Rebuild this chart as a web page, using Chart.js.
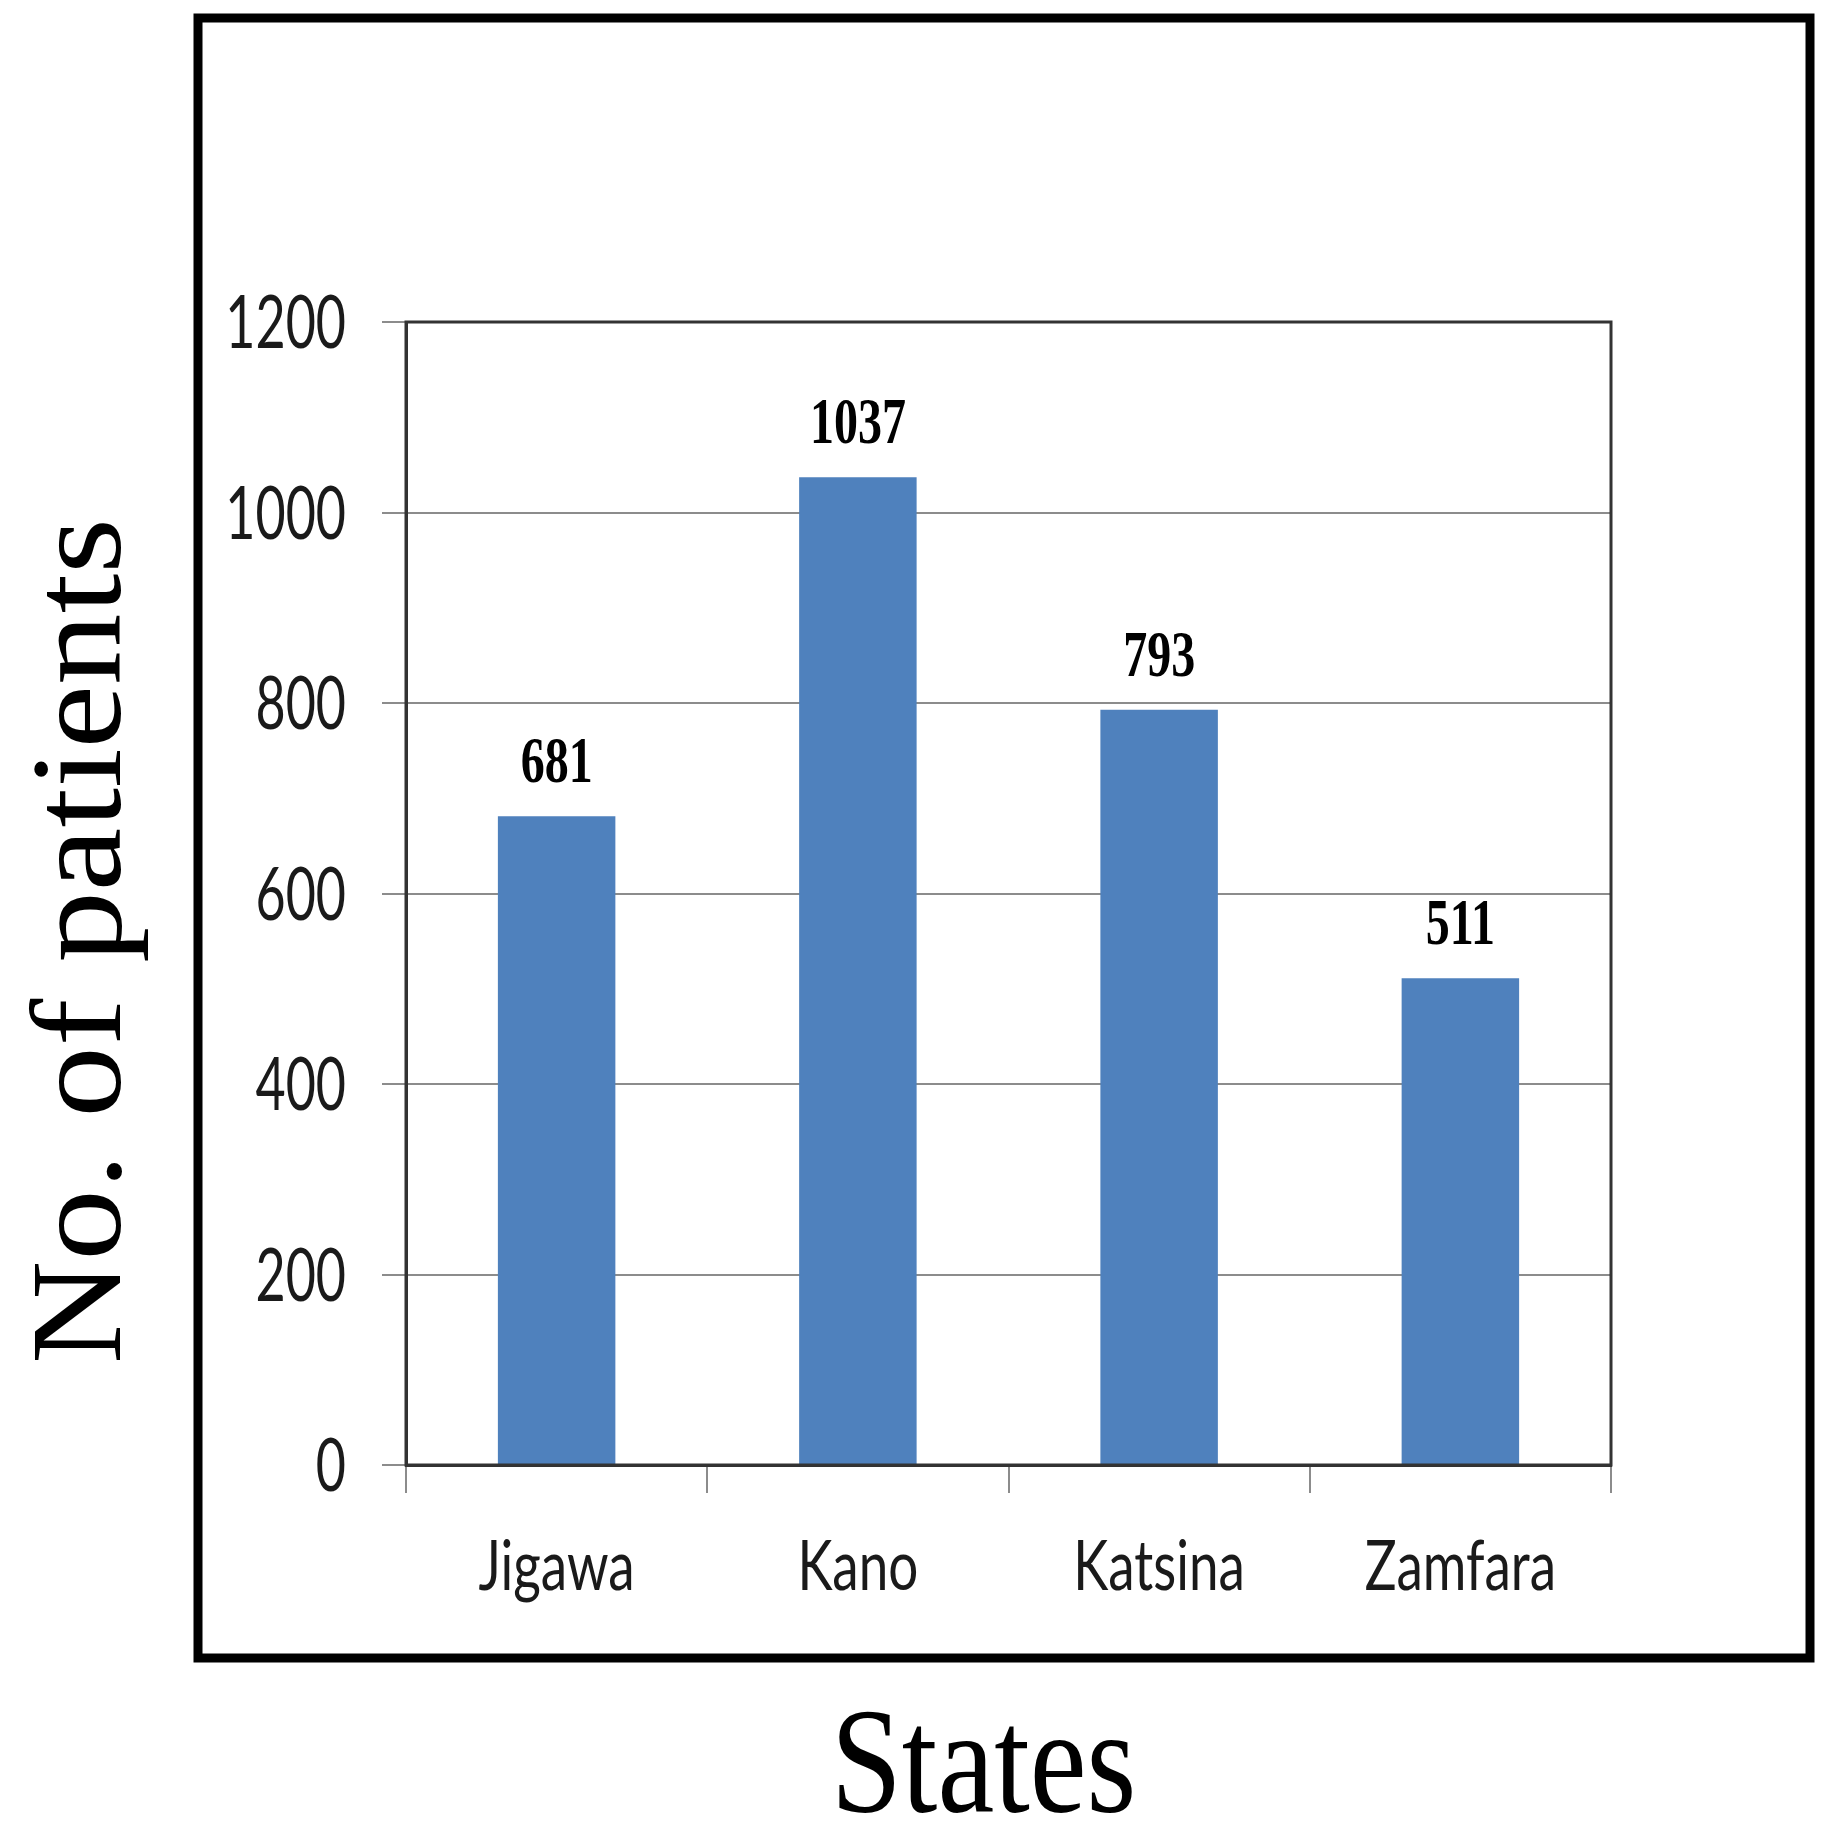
<!DOCTYPE html>
<html>
<head>
<meta charset="utf-8">
<title>No. of patients by state</title>
<script src="https://cdn.jsdelivr.net/npm/chart.js@4/dist/chart.umd.min.js"></script>
<style>
  html, body { margin: 0; padding: 0; background: #fff; }
  canvas { display: block; }
</style>
</head>
<body>
<canvas id="patientsChart" width="1833" height="1847"></canvas>
<script>
const states = ['Jigawa', 'Kano', 'Katsina', 'Zamfara'];
const patients = [681, 1037, 793, 511];
const yTicks = [0, 200, 400, 600, 800, 1000, 1200];

const yTitle = 'No. of patients';
const xTitle = 'States';

const serif = "'Liberation Serif', 'Times New Roman', serif";
const sans = "Lato, 'Open Sans', 'Noto Sans', sans-serif";

// draw text stretched vertically (the original figure is taller than wide)
function tallText(ctx, text, x, y, stretch) {
  ctx.save();
  ctx.translate(x, y);
  ctx.scale(1, stretch);
  ctx.fillText(text, 0, 0);
  ctx.restore();
}

// Outer frame, plot frame, tick labels, bar values and the axis titles
const decorations = {
  id: 'decorations',
  beforeDraw(chart) {
    const ctx = chart.ctx;
    ctx.save();
    ctx.fillStyle = '#fff';
    ctx.fillRect(0, 0, chart.width, chart.height);
    ctx.restore();
  },
  afterDraw(chart) {
    const ctx = chart.ctx;
    const area = chart.chartArea;
    const xScale = chart.scales.x;
    const yScale = chart.scales.y;

    ctx.save();
    // plot area frame
    ctx.strokeStyle = '#333';
    ctx.lineWidth = 3;
    ctx.strokeRect(area.left, area.top, area.right - area.left, area.bottom - area.top);

    // thick outer box
    ctx.strokeStyle = '#000';
    ctx.lineWidth = 9;
    ctx.strokeRect(198, 18, chart.width - 198 - 23, chart.height - 18 - 189);

    // y tick labels
    ctx.fillStyle = '#1a1a1a';
    ctx.font = '52px ' + sans;
    ctx.textAlign = 'right';
    ctx.textBaseline = 'alphabetic';
    yTicks.forEach(v => {
      tallText(ctx, String(v), area.left - 60, yScale.getPixelForValue(v) + 26, 1.42);
    });

    // x tick labels
    ctx.font = '53px ' + sans;
    ctx.textAlign = 'center';
    states.forEach((s, i) => {
      tallText(ctx, s, xScale.getPixelForValue(i), area.bottom + 125, 1.32);
    });

    // values above bars
    const meta = chart.getDatasetMeta(0);
    ctx.fillStyle = '#000';
    ctx.font = 'bold 48px ' + serif;
    meta.data.forEach((bar, i) => {
      tallText(ctx, String(patients[i]), bar.x, bar.y - 34, 1.38);
    });

    // y axis title
    ctx.save();
    ctx.font = '130px ' + serif;
    ctx.translate(120, 941);
    ctx.rotate(-Math.PI / 2);
    ctx.scale(1.1, 1);
    ctx.fillText(yTitle, 0, 0);
    ctx.restore();

    // x axis title
    ctx.font = '128px ' + serif;
    tallText(ctx, xTitle, (area.left + area.right) / 2 - 25, 1812, 1.17);

    ctx.restore();
  }
};

const ctx = document.getElementById('patientsChart');

new Chart(ctx, {
  type: 'bar',
  data: {
    labels: states,
    datasets: [{
      label: yTitle,
      data: patients,
      backgroundColor: '#4F81BD',
      borderWidth: 0,
      categoryPercentage: 1,
      barPercentage: 0.39
    }]
  },
  options: {
    responsive: false,
    animation: false,
    devicePixelRatio: 1,
    layout: {
      padding: { left: 286, right: 222, top: 322, bottom: 232 }
    },
    plugins: {
      legend: { display: false },
      tooltip: { enabled: false }
    },
    scales: {
      x: {
        afterFit(scale) { scale.height = 150; },
        grid: {
          offset: true,
          drawOnChartArea: false,
          drawTicks: true,
          tickLength: 28,
          color: '#8c8c8c',
          lineWidth: 2
        },
        border: { display: true, color: '#333', width: 3 },
        ticks: { display: false }
      },
      y: {
        min: 0,
        max: 1200,
        afterFit(scale) { scale.width = 120; },
        afterBuildTicks(scale) {
          scale.ticks = yTicks.map(v => ({ value: v }));
        },
        grid: {
          drawTicks: true,
          tickLength: 24,
          color: '#8c8c8c',
          lineWidth: 2
        },
        border: { display: true, color: '#333', width: 3 },
        ticks: { display: false }
      }
    }
  },
  plugins: [decorations]
});
</script>
</body>
</html>
